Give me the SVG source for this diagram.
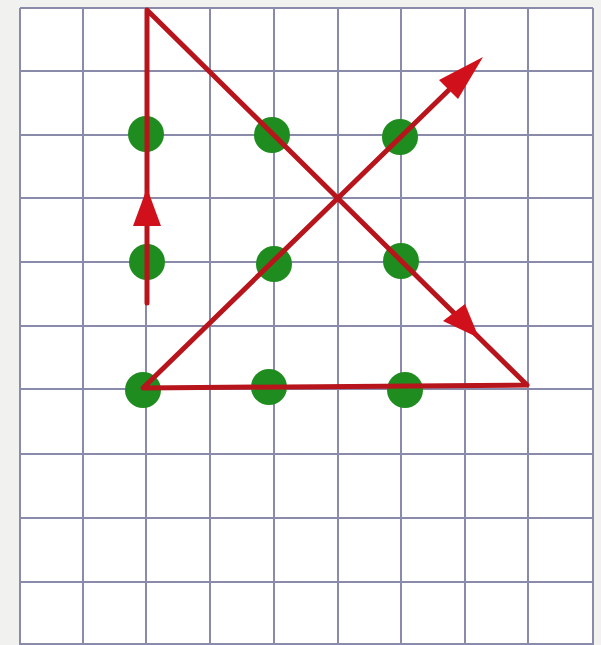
<svg xmlns="http://www.w3.org/2000/svg" width="601" height="645" viewBox="0 0 601 645">
<style>
.g{stroke:#8a8aaa;stroke-width:2;fill:none}
.dot{fill:#1e8c1e}
.r{stroke:#b8141c;stroke-width:5;fill:none;stroke-linecap:round;stroke-linejoin:round}
.ah{fill:#d0101a}
</style>
<rect width="601" height="645" fill="#f1f1ef"/>
<rect x="20" y="8" width="573" height="637" fill="#ffffff"/>
<g id="grid" class="g">
<path d="M20 8V645M83 8V645M146 8V645M210 8V645M274 8V645M338 8V645M401 8V645M465 8V645M528 8V645M593 8V645"/>
<path d="M20 8H593M20 71H593M20 135H593M20 198H593M20 262H593M20 326H593M20 389H593M20 454H593M20 518H593M20 582H593M20 644H593"/>
</g>
<g id="dots">
<circle id="d1" class="dot" cx="146" cy="134" r="18"/>
<circle id="d2" class="dot" cx="272" cy="135" r="18"/>
<circle id="d3" class="dot" cx="400" cy="137" r="18"/>
<circle id="d4" class="dot" cx="147" cy="262" r="18"/>
<circle id="d5" class="dot" cx="274" cy="264" r="18"/>
<circle id="d6" class="dot" cx="401" cy="261" r="18"/>
<circle id="d7" class="dot" cx="143" cy="390" r="18"/>
<circle id="d8" class="dot" cx="269" cy="387" r="18"/>
<circle id="d9" class="dot" cx="405" cy="390" r="18"/>
</g>
<g id="connectors">
<path class="r" d="M147 303V10L527 385L143 388L455 84"/>
<polygon class="ah" points="147,188 133,226 161,226"/>
<polygon class="ah" points="479,338 443,321 465,304"/>
<polygon class="ah" points="483,57 439,80 458,99"/>
</g>
</svg>
